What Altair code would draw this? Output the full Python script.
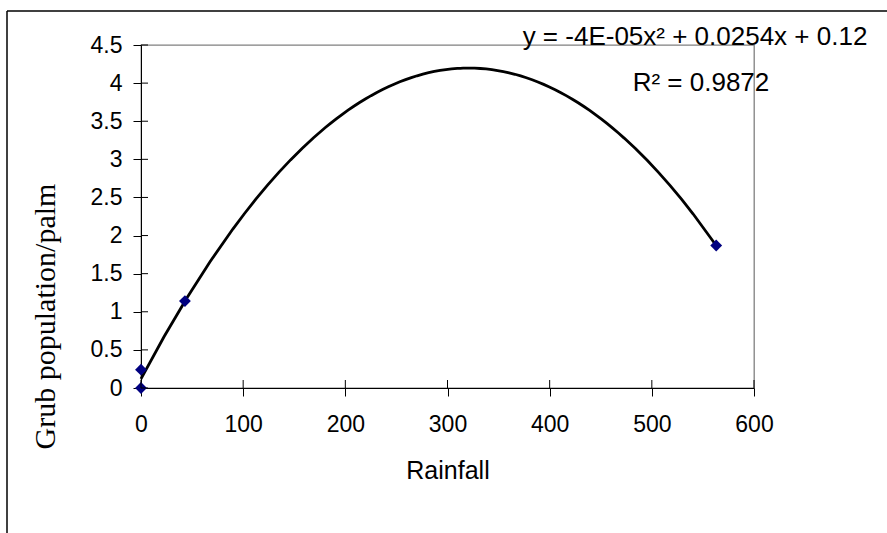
import altair as alt
import pandas as pd

# Observed data
rainfall = [0, 0, 43, 563]
grubs = [0, 0.24, 1.14, 1.87]

# Axis tick values
x_ticks = [0, 100, 200, 300, 400, 500, 600]
y_ticks = [0, 0.5, 1, 1.5, 2, 2.5, 3, 3.5, 4, 4.5]

equation = "y = -4E-05x\u00b2 + 0.0254x + 0.12"
r_squared = "R\u00b2 = 0.9872"

df = pd.DataFrame({"Rainfall": rainfall, "Grubs": grubs})
df_xt = pd.DataFrame({"Rainfall": x_ticks})
df_yt = pd.DataFrame({"Grubs": y_ticks})

W, H = 613, 343
SANS = "Liberation Sans"
SERIF = "Liberation Serif"

xscale = alt.Scale(domain=[0, 600], nice=False, zero=False)
yscale = alt.Scale(domain=[0, 4.5], nice=False, zero=False)

xaxis = alt.Axis(values=x_ticks, grid=False, domainColor="black", tickColor="black",
                 tickSize=8, labelFont=SANS, labelFontSize=23, labelColor="black",
                 labelPadding=17, labelFlush=False, labelOverlap=False,
                 title="Rainfall", titleFont=SANS,
                 titleFontSize=25, titleFontWeight="normal", titleColor="black",
                 titleY=82, titleBaseline="middle")
yaxis = alt.Axis(values=y_ticks, grid=False, domainColor="black", tickColor="black",
                 tickSize=8, labelFont=SANS, labelFontSize=23, labelColor="black",
                 labelPadding=11, format=".1~f", labelFlush=False, labelOverlap=False,
                 title="Grub population/palm", titleFont=SERIF, titleFontSize=30,
                 titleFontWeight="normal", titleColor="black", titleAngle=270,
                 titleX=-96, titleY=271, titleAlign="center", titleBaseline="middle")

X = alt.X("Rainfall:Q", scale=xscale, axis=xaxis)
Y = alt.Y("Grubs:Q", scale=yscale, axis=yaxis)

trend = alt.Chart(df).transform_regression(
    "Rainfall", "Grubs", method="poly", order=2
).mark_line(color="black", strokeWidth=2.8).encode(x=X, y=Y)

points = alt.Chart(df).mark_point(shape="diamond", filled=True, color="#000080",
                                  size=140, opacity=1).encode(x=X, y=Y)

# inner halves of the crossing tick marks
xin = alt.Chart(df_xt).mark_rule(color="black", strokeWidth=1).encode(
    x=X, y=alt.value(H - 8), y2=alt.value(H))
yin = alt.Chart(df_yt).mark_rule(color="black", strokeWidth=1).encode(
    y=Y, x=alt.value(0), x2=alt.value(7))

eq = alt.Chart(df.head(1)).mark_text(font=SANS, fontSize=26, color="black",
                                     align="center", baseline="middle").encode(
    x=alt.value(554), y=alt.value(-8), text=alt.value(equation))
r2 = alt.Chart(df.head(1)).mark_text(font=SANS, fontSize=26, color="black",
                                     align="center", baseline="middle").encode(
    x=alt.value(560), y=alt.value(38), text=alt.value(r_squared))

# outer chart-area frame (left and top edges visible)
frame_left = alt.Chart(df.head(1)).mark_rule(color="black", strokeWidth=1.5).encode(
    x=alt.value(-134), y=alt.value(-34), y2=alt.value(600))
frame_top = alt.Chart(df.head(1)).mark_rule(color="black", strokeWidth=1.5).encode(
    x=alt.value(-134), x2=alt.value(900), y=alt.value(-34))

chart = alt.layer(trend, points, xin, yin, frame_left, frame_top, eq, r2).properties(
    width=W, height=H,
    autosize=alt.AutoSizeParams(type="none"),
    padding={"left": 141, "top": 45, "right": 133, "bottom": 145},
    background="white",
).configure_view(
    stroke="#808080", strokeWidth=1.3
).configure_axis(
    labelFontSize=23, labelFont=SANS, labelOverlap=False
)

chart.save("out.html", embed_options={"renderer": "svg", "actions": False})
